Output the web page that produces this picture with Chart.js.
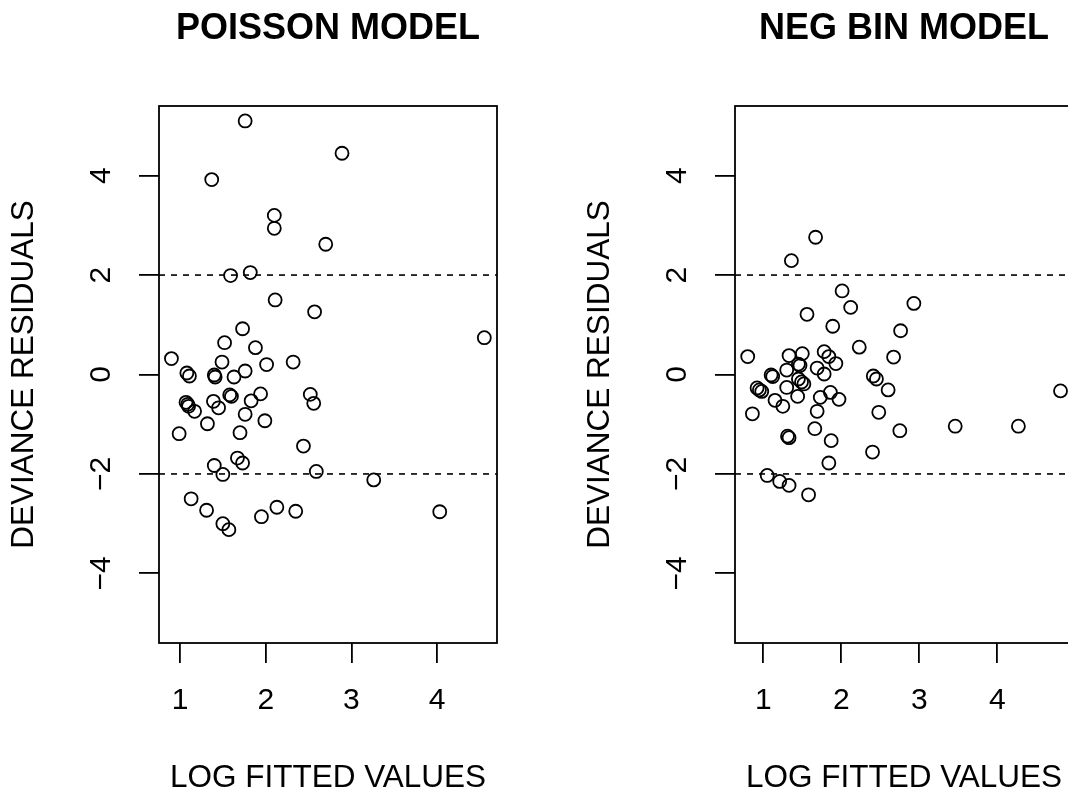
<!DOCTYPE html>
<html><head><meta charset="utf-8">
<script src="https://cdn.jsdelivr.net/npm/chart.js@4/dist/chart.umd.min.js"></script>
<style>
html,body{margin:0;padding:0;background:#fff;width:1068px;height:792px;overflow:hidden;}
#wrap{position:relative;width:1068px;height:792px;overflow:hidden;background:#fff;}
.panel{position:absolute;top:0;width:576px;height:792px;}
canvas{display:block;}
</style></head><body>
<div id="wrap">
<div class="panel" style="left:0"><canvas id="c1" width="576" height="792"></canvas></div>
<div class="panel" style="left:576px"><canvas id="c2" width="576" height="792"></canvas></div>
</div>
<script>
// ---- data ----
const poissonX = [1.76,2.89,1.37,2.10,2.10,2.70,1.59,1.82,2.11,2.57,4.55,1.73,1.52,1.88,0.90,1.49,2.01,2.32,
  1.08,1.11,1.40,1.41,1.63,1.76,1.07,1.09,1.10,1.17,1.32,0.99,1.39,1.45,1.58,1.60,1.83,1.94,1.76,1.99,1.70,
  2.52,2.56,2.44,1.67,1.73,1.40,1.50,2.59,3.26,1.13,1.31,2.13,2.35,1.95,1.50,1.57,4.03];
const poissonY = [5.10,4.45,3.92,3.20,2.94,2.62,1.99,2.05,1.50,1.26,0.74,0.92,0.64,0.54,0.32,0.25,0.20,0.25,
  0.03,-0.03,-0.01,-0.05,-0.05,0.07,-0.56,-0.60,-0.64,-0.74,-0.99,-1.19,-0.54,-0.67,-0.41,-0.44,-0.53,-0.39,-0.80,-0.93,-1.17,
  -0.40,-0.58,-1.44,-1.68,-1.78,-1.83,-2.01,-1.95,-2.12,-2.50,-2.73,-2.67,-2.75,-2.86,-3.00,-3.12,-2.76];
const negbinX = [1.67,1.36,2.01,2.93,2.12,1.56,1.89,2.76,2.23,0.80,2.67,1.33,1.50,1.78,1.84,1.93,1.45,1.47,
  1.30,1.69,1.78,1.10,1.12,1.45,1.49,1.52,1.30,0.92,0.95,0.98,1.44,1.86,1.73,1.97,1.15,1.25,1.69,0.86,
  2.41,2.45,2.60,2.48,2.75,3.46,4.27,4.81,1.66,1.31,1.33,1.87,2.40,1.84,1.05,1.21,1.33,1.58];
const negbinY = [2.76,2.29,1.68,1.43,1.35,1.21,0.97,0.88,0.55,0.36,0.35,0.38,0.42,0.46,0.36,0.22,0.21,0.18,
  0.09,0.13,0.01,-0.01,-0.04,-0.09,-0.15,-0.19,-0.26,-0.27,-0.31,-0.34,-0.44,-0.36,-0.46,-0.50,-0.52,-0.64,-0.74,-0.79,
  -0.03,-0.09,-0.31,-0.76,-1.13,-1.04,-1.04,-0.33,-1.09,-1.24,-1.27,-1.33,-1.56,-1.78,-2.03,-2.15,-2.23,-2.42];
const refLevels = [2, -2];
const xTickValues = [1, 2, 3, 4];
const yTickValues = [-4, -2, 0, 2, 4];
const panelTitles = ['POISSON MODEL', 'NEG BIN MODEL'];
const xAxisLabel = 'LOG FITTED VALUES';
const yAxisLabel = 'DEVIANCE RESIDUALS';
const xRanges = [[0.755, 4.698], [0.637, 4.970]];
const yRange = [-5.4, 5.4];

// ---- drawing ----
const FONT = '"Liberation Sans", Arial, Helvetica, sans-serif';
Chart.defaults.font.family = FONT;
Chart.defaults.color = '#000';

const boxPlugin = {
  id: 'plotBox',
  afterDatasetsDraw(chart) {
    const {ctx, chartArea: a} = chart;
    ctx.save();
    ctx.strokeStyle = '#000';
    ctx.lineWidth = 1.8;
    ctx.strokeRect(a.left, a.top, a.right - a.left, a.bottom - a.top);
    ctx.restore();
  }
};

function fmt(v) { return v < 0 ? '\u2212' + Math.abs(v) : String(v); }

function makePanel(id, xs, ys, title, xr) {
  const datasets = refLevels.map(l => ({
    data: [{x: xr[0], y: l}, {x: xr[1], y: l}],
    showLine: true, borderColor: '#000', borderWidth: 1.6, borderDash: [6, 6],
    pointRadius: 0, fill: false
  }));
  datasets.push({
    data: xs.map((x, i) => ({x: x, y: ys[i]})),
    showLine: false, pointStyle: 'circle', pointRadius: 6.5, pointBorderWidth: 1.8,
    borderColor: '#000', backgroundColor: 'rgba(0,0,0,0)'
  });
  const gridOpts = {drawOnChartArea: false, drawTicks: true, tickLength: 20, color: '#000', lineWidth: 1.8};
  return new Chart(document.getElementById(id), {
    type: 'scatter',
    data: {datasets},
    options: {
      responsive: false, animation: false, devicePixelRatio: 1, events: [],
      layout: {padding: {left: 0, right: 79, top: 0, bottom: 0}},
      plugins: {
        legend: {display: false}, tooltip: {enabled: false},
        title: {display: true, text: title, fullSize: false, color: '#000',
          font: {family: FONT, size: 36, weight: 'bold', lineHeight: 1},
          padding: {top: 11.5, bottom: 58.5}}
      },
      scales: {
        x: {
          type: 'linear', position: 'bottom', min: xr[0], max: xr[1], bounds: 'data',
          afterBuildTicks(s) { s.ticks = xTickValues.map(v => ({value: v})); },
          ticks: {color: '#000', font: {family: FONT, size: 30},
                  padding: 20, maxRotation: 0, minRotation: 0, autoSkip: false, callback: fmt},
          grid: gridOpts, border: {display: false},
          title: {display: true, text: xAxisLabel, color: '#000',
                  font: {family: FONT, size: 31.5, lineHeight: 0.8}, padding: {top: 0, bottom: 0.6}},
          afterFit(s) { s.height = 149; }
        },
        y: {
          type: 'linear', position: 'left', min: yRange[0], max: yRange[1], bounds: 'data',
          afterBuildTicks(s) { s.ticks = yTickValues.map(v => ({value: v})); },
          ticks: {color: '#000', font: {family: FONT, size: 30},
                  padding: 20, minRotation: 90, maxRotation: 90, crossAlign: 'center', autoSkip: false, callback: fmt},
          grid: gridOpts, border: {display: false},
          title: {display: true, text: yAxisLabel, color: '#000',
                  font: {family: FONT, size: 31.5, lineHeight: 0.8}, padding: {top: 11.6, bottom: 0}},
          afterFit(s) { s.width = 159; }
        }
      }
    },
    plugins: [boxPlugin]
  });
}

makePanel('c1', poissonX, poissonY, panelTitles[0], xRanges[0]);
makePanel('c2', negbinX, negbinY, panelTitles[1], xRanges[1]);
</script>
</body></html>
